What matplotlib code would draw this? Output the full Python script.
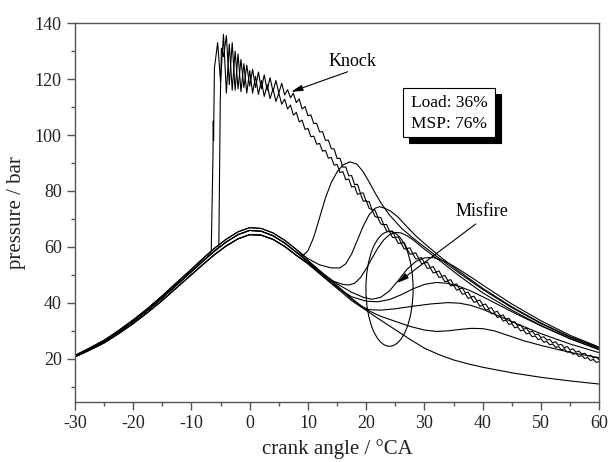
import numpy as np
import matplotlib
matplotlib.use('Agg')
import matplotlib.pyplot as plt
from matplotlib.patches import Ellipse, Rectangle

plt.rcParams['font.family'] = ['Liberation Serif', 'DejaVu Serif']
plt.rcParams['axes.unicode_minus'] = False

# compression stroke, shared by all cycles (three slightly different cycles)
comp_angle = np.array([-30, -27.5, -25, -22.5, -20, -17.5, -15, -12.5, -10,
                       -8, -6, -4, -2, 0, 2, 4, 6, 8])
comp_hi = np.array([21.2, 23.8, 26.6, 30.1, 33.9, 38.0, 42.5, 47.3, 52.0,
                    55.9, 59.6, 62.8, 65.4, 66.9, 66.6, 65.0, 62.4, 59.1])
comp_mid = np.array([21.0, 23.5, 26.2, 29.6, 33.3, 37.4, 41.8, 46.5, 51.2,
                     55.0, 58.6, 61.8, 64.4, 65.9, 65.6, 64.0, 61.4, 58.1])
comp_lo = np.array([20.7, 23.1, 25.7, 29.0, 32.6, 36.6, 40.9, 45.5, 50.1,
                    53.8, 57.3, 60.4, 62.9, 64.4, 64.2, 62.7, 60.2, 57.0])

# knocking cycles: steep rise, then pressure samples every 0.5 degCA
knock1_rise_angle = [-6.6, -6.3, -6.25, -6.2, -6.05]
knock1_rise = [58.4, 93, 105, 98, 124]
knock1_start = -5.5
knock1_pres = [133, 119, 136, 115, 132.5, 116, 130, 116.5, 127, 117, 125, 117.5,
               123.5, 117, 122.5, 116.5, 121.5, 116, 120.5, 115.5, 119.5, 115,
               118.5, 114.3, 116.2, 113.3, 114.9, 111.6, 112.9, 109.3, 110.2,
               106.9, 107.2, 104.1, 104.2, 101.1, 101.2, 98.1, 98.2, 95.1, 95.0,
               91.6, 91.7, 88.5, 88.6, 85.4, 85.5, 82.3, 82.4, 79.2, 79.3, 76.2,
               76.2, 73.3, 73.2, 70.6, 70.5, 68.0, 68.0, 65.6, 65.7, 63.4, 63.6,
               61.4, 61.6, 59.4, 59.7, 57.6, 57.9, 55.9, 56.2, 54.2, 54.6, 52.6,
               53.0, 51.0, 51.4, 49.5, 49.8, 48.0, 48.3, 46.5, 46.8, 45.0, 45.3,
               43.6, 43.8, 42.1, 42.4, 40.7, 41.0, 39.3, 39.6, 38.0, 38.3, 36.6,
               37.0, 35.4, 35.7, 34.1, 34.5, 32.9, 33.3, 31.7, 32.1, 30.6, 31.0,
               29.5, 29.9, 28.6, 28.9, 27.6, 27.9, 26.7, 27.0, 25.7, 26.1, 24.9,
               25.2, 24.0, 24.4, 23.2, 23.6, 22.4, 22.8, 21.7, 22.0, 21.0, 21.3,
               20.3, 20.6, 19.6]

knock2_rise_angle = [-5.3, -5.05, -4.85]
knock2_rise = [59.8, 112, 131]
knock2_start = -4.5
knock2_pres = [128, 135.5, 118, 133, 116, 129, 115.5, 125.5, 115, 123, 115, 121,
               114.5, 119.5, 113.8, 118, 113, 116.5, 112, 115, 111.0, 112.8,
               109.3, 110.7, 107.1, 108.1, 104.7, 105.3, 102.0, 102.4, 99.4,
               99.6, 96.7, 97.0, 94.2, 94.5, 91.7, 92.0, 89.2, 89.5, 86.6, 86.9,
               84.0, 84.3, 81.4, 81.7, 78.8, 79.1, 76.3, 76.6,
               73.8, 73.3, 70.9, 70.5, 68.2, 67.9, 65.7, 65.5, 63.4, 63.3, 61.3,
               61.3, 59.3, 59.3, 57.4, 57.5, 55.7, 55.8, 54.0, 54.1, 52.3, 52.5,
               50.7, 50.9, 49.1, 49.3, 47.6, 47.8, 46.1, 46.3, 44.6, 44.8, 43.1,
               43.3, 41.6, 41.9, 40.2, 40.5, 38.8, 39.1, 37.4, 37.7, 36.1, 36.4,
               34.8, 35.1, 33.5, 33.8, 32.3, 32.6, 31.1, 31.4, 30.0, 30.3, 28.9,
               29.2, 27.9, 28.2, 26.9, 27.2, 25.9, 26.2, 25.0, 25.3, 24.1, 24.4,
               23.2, 23.6, 22.4, 22.8, 21.6, 22.0, 20.8, 21.2, 20.1, 20.5, 19.4,
               19.8, 18.7, 19.1]

# late / partial burning cycles (expansion stroke after 8 degCA)
late1_angle = [9, 10, 11, 12, 13, 14, 15, 16, 17.2, 18.4, 19.5, 20.5, 21.5,
               22.5, 24, 26, 28, 30, 33, 36, 40, 45, 50, 55, 60]
late1_pres = [56.7, 58.6, 63.5, 70.5, 77.5, 83, 86.8, 89.3, 90.4, 89.6, 86.8,
              83.2, 79.4, 75.8, 71.4, 66.8, 63.2, 60.0, 55.2, 50.6, 44.8, 38.3,
              32.6, 27.7, 23.8]
late2_angle = [10, 12, 14, 15.5, 16.5, 17.5, 18.5, 19.5, 20.5, 21.5, 22.3, 23.2,
               24.2, 25.5, 27, 28.5, 30, 33, 36, 40, 45, 50, 55, 60]
late2_pres = [55.8, 53.6, 52.5, 52.5, 54, 57.5, 62.5, 67.5, 71.5, 73.8, 74.4,
              73.8, 72.8, 70.6, 67.2, 64, 61.2, 56, 51.2, 45.2, 38.6, 32.8, 27.9,
              24.0]
late3_angle = [10, 12, 14, 16, 17, 18, 19, 20, 21, 22, 23, 24, 25, 26, 27, 28,
               30, 33, 36, 40, 45, 50, 55, 60]
late3_pres = [54.2, 50.8, 48, 46.6, 46.4, 47, 49, 52.2, 56, 59.6, 62.5, 64.4,
              65.2, 65, 64, 62.6, 59.2, 54.5, 49.6, 43.6, 37.4, 31.9, 27.2, 23.4]
late4_angle = [10, 12.5, 15, 17.5, 19.5, 21, 22.5, 24, 25.5, 27, 28.5, 30, 31.5,
               33, 35, 38, 41, 45, 50, 55, 60]
late4_pres = [54.8, 50.6, 46.8, 43.8, 42, 41.3, 42, 44.3, 48, 52, 54.8, 56.1,
              56.2, 55.3, 53.2, 49.2, 45, 39.6, 33.6, 28.4, 24.2]
late5_angle = [10, 12.5, 15, 17.5, 20, 22, 24, 26, 28, 30, 32, 34, 36, 38, 40,
               43, 46, 50, 55, 60]
late5_pres = [54.0, 49.6, 45.4, 42.2, 40.6, 40.4, 41.2, 42.9, 45, 46.6, 47.3,
              47, 45.9, 44.2, 42.2, 39, 35.8, 31.8, 27.2, 23.2]
late6_angle = [10, 12.5, 15, 17.5, 19, 20.5, 22.5, 25, 28, 31, 34, 36, 38, 40,
               43, 46, 50, 55, 60]
late6_pres = [54.6, 50.2, 45.8, 41.4, 38.9, 37.6, 37.4, 37.9, 38.8, 39.6, 40.1,
              39.9, 39.1, 37.7, 35.1, 32.4, 29, 25.3, 22.2]
late7_angle = [10, 12.5, 15, 17.5, 20, 22.5, 25, 27.5, 30, 32, 34, 36, 38, 40,
               42, 44, 47, 50, 55, 60]
late7_pres = [55.2, 50.7, 46.2, 41.6, 37.6, 35.2, 33.4, 31.6, 30.3, 29.8, 30,
              30.5, 30.9, 30.8, 30, 28.6, 26.5, 24.8, 22.3, 20.4]
# complete misfire
misfire_angle = [10, 12.5, 15, 17.5, 20, 22.5, 25, 27.5, 30, 32.5, 35, 37.5, 40,
                 45, 50, 55, 60]
misfire_pres = [54.0, 49.6, 45.2, 40.8, 37.3, 33.8, 30.4, 27.0, 23.8, 21.5,
                19.6, 18.2, 17.0, 15.0, 13.4, 12.1, 11.0]


def trace(comp, cut, ang, pres):
	keep = comp_angle <= cut
	return np.r_[comp_angle[keep], ang], np.r_[comp[keep], pres]


def knock_angles(start, pres):
	return start + 0.5 * np.arange(len(pres))


fig = plt.figure(figsize=(6.09, 4.62), dpi=100)
ax = fig.add_axes([0.123, 0.130, 0.861, 0.820])

curves = [
	trace(comp_hi, -8, np.r_[knock1_rise_angle, knock_angles(knock1_start, knock1_pres)],
	      np.r_[knock1_rise, knock1_pres]),
	trace(comp_mid, -6, np.r_[knock2_rise_angle, knock_angles(knock2_start, knock2_pres)],
	      np.r_[knock2_rise, knock2_pres]),
	trace(comp_mid, 8, late1_angle, late1_pres),
	trace(comp_hi, 8, late2_angle, late2_pres),
	trace(comp_lo, 8, late3_angle, late3_pres),
	trace(comp_mid, 8, late4_angle, late4_pres),
	trace(comp_lo, 8, late5_angle, late5_pres),
	trace(comp_mid, 8, late6_angle, late6_pres),
	trace(comp_hi, 8, late7_angle, late7_pres),
	trace(comp_lo, 8, misfire_angle, misfire_pres),
]
for x, y in curves:
	ax.plot(x, y, color='black', lw=0.8)

# misfire marker ellipse
ax.add_patch(Ellipse((24.0, 45.0), 8.1, 41, fill=False, color='black', lw=0.8))

arrow = dict(arrowstyle='-|>,head_length=0.7,head_width=0.18', color='black',
             lw=0.8, shrinkA=0, shrinkB=0)
ax.annotate('', xy=(7.1, 115.4), xytext=(16.8, 122.6), arrowprops=arrow)
ax.text(17.7, 126.3, 'Knock', fontsize=13, ha='center', va='center')
ax.annotate('', xy=(25.3, 47.1), xytext=(38.8, 68.2), arrowprops=arrow)
ax.text(39.8, 72.6, 'Misfire', fontsize=13, ha='center', va='center')

# info box with drop shadow
ax.add_patch(Rectangle((27.4, 97.2), 15.7, 17.5, facecolor='black',
                       edgecolor='black', lw=0.8, zorder=4))
ax.add_patch(Rectangle((26.4, 99.3), 15.7, 17.5, facecolor='white',
                       edgecolor='black', lw=0.8, zorder=5))
ax.text(27.7, 111.5, 'Load: 36%', fontsize=12.5, va='center', zorder=6)
ax.text(27.7, 104.0, 'MSP: 76%', fontsize=12.5, va='center', zorder=6)

ax.set_xlim(-30, 60)
ax.set_ylim(4.6, 140)
ax.set_xticks(np.arange(-30, 61, 10))
ax.set_xticks(np.arange(-25, 60, 10), minor=True)
ax.set_yticks(np.arange(20, 141, 20))
ax.set_yticks(np.arange(10, 140, 20), minor=True)

for s in ax.spines.values():
	s.set_color('#555555')
	s.set_linewidth(1.0)
ax.tick_params(which='both', direction='out', top=False, right=False,
               color='#555555', labelsize=13, labelcolor='#222222')
ax.tick_params(which='major', length=5.5, width=1.0, pad=4)
ax.tick_params(which='minor', length=3.2, width=1.0)

ax.set_xlabel('crank angle / °CA', fontsize=15, color='#222222', labelpad=5)
ax.set_ylabel('pressure / bar', fontsize=15, color='#222222', labelpad=6)

fig.savefig('out.png', dpi=100)
